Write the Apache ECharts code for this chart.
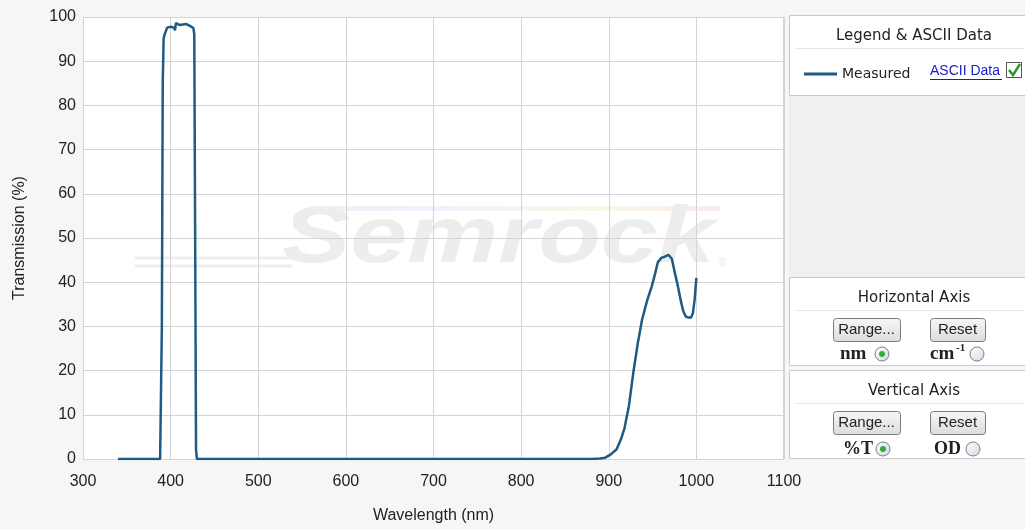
<!DOCTYPE html>
<html>
<head>
<meta charset="utf-8">
<script src="https://cdn.jsdelivr.net/npm/echarts@6/dist/echarts.min.js"></script>
<style>
  html, body { margin: 0; padding: 0; background: #f6f6f6; }
  #main { width: 1025px; height: 529px; }
</style>
</head>
<body>
<div id="main"></div>
<script>
// 数据 ------------------------------------------------------------
var wavelength = [340, 388, 389, 390, 391, 392, 393, 394, 396, 398, 400, 402, 404, 405, 406, 408, 410, 412,
    414, 416, 418, 420, 422, 424, 426, 427, 428, 429, 430, 500, 600, 700, 800, 880, 890, 896, 902,
    909, 914, 918, 923, 928, 933, 938, 944, 949, 953, 956, 960, 964, 968, 970, 972, 975, 979, 982,
    985, 988, 991, 994, 996, 998, 1000];
var transmission = [0, 0, 0.3, 30, 85, 95, 96, 96.5, 97.6, 97.9, 97.8, 98.2, 97.6, 97.0, 98.6, 98.4, 98.2, 97.9,
    98.3, 98.1, 98.4, 98.2, 98.0, 97.8, 97.5, 96, 50, 2, 0, 0, 0, 0, 0, 0, 0.1, 0.3, 1,
    2.2, 4.5, 7, 12, 19.5, 26, 31.5, 36, 39, 42, 44.5, 45.5, 45.8, 46.2, 46.5, 45.3, 42.5, 39, 36,
    33.5, 32.2, 32, 32, 33, 36, 41];
var xTicks = [300, 1100, 100];   // min, max, interval
var yTicks = [0, 100, 10];
var seriesName = 'Measured';

var points = wavelength.map(function (w, i) { return [w, transmission[i]]; });

var myChart = echarts.init(document.getElementById('main'));

var font = 'Liberation Sans, Arial, sans-serif';
var uiFont = 'DejaVu Sans, Verdana, sans-serif';
var serif = 'Liberation Serif, DejaVu Serif, serif';

function button(x, y, w, label) {
    return [
        { type: 'rect', z: 5, shape: { x: x + 0.5, y: y + 0.5, width: w, height: 23, r: 3 },
          style: { fill: new echarts.graphic.LinearGradient(0, 0, 0, 1, [
                { offset: 0, color: '#f7f7f7' }, { offset: 1, color: '#dcdcdc' }]),
                stroke: '#7a7a7a', lineWidth: 1 } },
        { type: 'text', z: 6, x: x + w / 2, y: y + 12,
          style: { text: label, font: '15px ' + font, fill: '#222', align: 'center', verticalAlign: 'middle' } }
    ];
}

function radio(cx, cy, on) {
    var kids = [{ type: 'circle', z: 5, shape: { cx: cx, cy: cy, r: 7 },
        style: { fill: new echarts.graphic.LinearGradient(0, 0, 1, 1, [
            { offset: 0, color: '#ffffff' }, { offset: 1, color: '#d3dae2' }]),
            stroke: '#6f7f8f', lineWidth: 1 } }];
    if (on) {
        kids.push({ type: 'circle', z: 6, shape: { cx: cx, cy: cy, r: 3 }, style: { fill: '#2fae3a' } });
    }
    return kids;
}

function panel(y, h, title) {
    return [
        { type: 'rect', z: 4, shape: { x: 789.5, y: y + 0.5, width: 240, height: h },
          style: { fill: '#ffffff', stroke: '#c9c9c9', lineWidth: 1 } },
        { type: 'line', z: 5, shape: { x1: 795, y1: y + 33.5, x2: 1025, y2: y + 33.5 },
          style: { stroke: '#e6e6e6', lineWidth: 1 } },
        { type: 'text', z: 6, x: 914, y: y + 21,
          style: { text: title, font: '15px ' + uiFont, fill: '#222', align: 'center', verticalAlign: 'middle' } }
    ];
}

var rainbow = new echarts.graphic.LinearGradient(0, 0, 1, 0, [
    { offset: 0, color: '#f1f1f8' }, { offset: 0.3, color: '#eef3fb' },
    { offset: 0.5, color: '#f1f8ee' }, { offset: 0.7, color: '#faf6e8' }, { offset: 1, color: '#f9ecec' }]);

var graphics = [
    // 绘图区背景
    { type: 'rect', z: -10, shape: { x: 83.5, y: 17.5, width: 700, height: 442 },
      style: { fill: '#ffffff', stroke: '#d4d4d4', lineWidth: 1 } },
    // 水印
    { type: 'line', z: -5, shape: { x1: 135, y1: 258, x2: 300, y2: 258 }, style: { stroke: '#eeeeee', lineWidth: 3 } },
    { type: 'line', z: -5, shape: { x1: 135, y1: 266, x2: 292, y2: 266 }, style: { stroke: '#eeeeee', lineWidth: 3 } },
    { type: 'rect', z: -5, shape: { x: 330, y: 206, width: 390, height: 5 }, style: { fill: rainbow } },
    { type: 'text', z: -5, x: 282, y: 280, scaleX: 1.28,
      style: { text: 'Semrock', font: 'italic bold 80px ' + font, fill: '#ededed', verticalAlign: 'bottom' } },
    { type: 'text', z: -5, x: 718, y: 258,
      style: { text: '®', font: '12px ' + font, fill: '#e6e6e6' } },
    // 右侧面板
    { type: 'rect', z: 3, shape: { x: 789, y: 95, width: 236, height: 182 }, style: { fill: '#f0f0f0' } },
    { type: 'text', z: 6, x: 930, y: 71,
      style: { text: 'ASCII Data', font: '14px ' + font, fill: '#1a1acc', verticalAlign: 'middle' } },
    { type: 'line', z: 6, shape: { x1: 930, y1: 79.5, x2: 1002, y2: 79.5 }, style: { stroke: '#1a1acc', lineWidth: 1 } },
    { type: 'rect', z: 6, shape: { x: 1006.5, y: 62.5, width: 15, height: 15 },
      style: { fill: '#ffffff', stroke: '#555', lineWidth: 1 } },
    { type: 'polyline', z: 7, shape: { points: [[1009, 70], [1013, 75], [1020, 64]] },
      style: { stroke: '#2a9a2a', lineWidth: 2.5, fill: null } },
    { type: 'text', z: 6, x: 840, y: 354,
      style: { text: 'nm', font: 'bold 19px ' + serif, fill: '#222', verticalAlign: 'middle' } },
    { type: 'text', z: 6, x: 930, y: 354,
      style: { text: 'cm', font: 'bold 19px ' + serif, fill: '#222', verticalAlign: 'middle' } },
    { type: 'text', z: 6, x: 956, y: 348,
      style: { text: '-1', font: 'bold 11px ' + serif, fill: '#222', verticalAlign: 'middle' } },
    { type: 'text', z: 6, x: 843, y: 449,
      style: { text: '%T', font: 'bold 18px ' + serif, fill: '#222', verticalAlign: 'middle' } },
    { type: 'text', z: 6, x: 934, y: 449,
      style: { text: 'OD', font: 'bold 18px ' + serif, fill: '#222', verticalAlign: 'middle' } }
].concat(
    panel(15, 80, 'Legend & ASCII Data'),
    panel(277, 88, 'Horizontal Axis'),
    button(833, 318, 67, 'Range...'),
    button(930, 318, 55, 'Reset'),
    radio(882, 354, true),
    radio(977, 354, false),
    panel(370, 88, 'Vertical Axis'),
    button(833, 411, 67, 'Range...'),
    button(930, 411, 55, 'Reset'),
    radio(883, 449, true),
    radio(973, 449, false)
);

var option = {
    backgroundColor: '#f6f6f6',
    animation: false,
    grid: { left: 83, top: 17, right: 241, bottom: 70, show: false },
    legend: {
        data: [seriesName],
        left: 799, top: 62, z: 8,
        itemWidth: 33, itemHeight: 3, itemGap: 8,
        icon: 'rect',
        textStyle: { fontFamily: uiFont, fontSize: 14, color: '#222' }
    },
    xAxis: {
        type: 'value',
        min: xTicks[0], max: xTicks[1], interval: xTicks[2],
        name: 'Wavelength (nm)', nameLocation: 'middle', nameGap: 49,
        nameTextStyle: { fontFamily: font, fontSize: 16, color: '#222' },
        axisLine: { show: false },
        axisTick: { show: false },
        axisLabel: { fontFamily: font, fontSize: 16, color: '#222', margin: 15,
                     formatter: function (v) { return String(v); } },
        splitLine: { show: true, lineStyle: { color: '#d4d4d4', width: 1 } }
    },
    yAxis: {
        type: 'value',
        min: yTicks[0], max: yTicks[1], interval: yTicks[2],
        name: 'Transmission (%)', nameLocation: 'middle', nameGap: 55,
        nameTextStyle: { fontFamily: font, fontSize: 16, color: '#222' },
        axisLine: { show: false },
        axisTick: { show: false },
        axisLabel: { fontFamily: font, fontSize: 16, color: '#222', margin: 7 },
        splitLine: { show: true, lineStyle: { color: '#d4d4d4', width: 1 } }
    },
    series: [{
        name: seriesName,
        type: 'line',
        data: points,
        showSymbol: false,
        smooth: false,
        lineStyle: { color: '#1d5a84', width: 2.5 },
        itemStyle: { color: '#1d5a84' },
        z: 10
    }],
    graphic: graphics
};

myChart.setOption(option);
</script>
</body>
</html>
